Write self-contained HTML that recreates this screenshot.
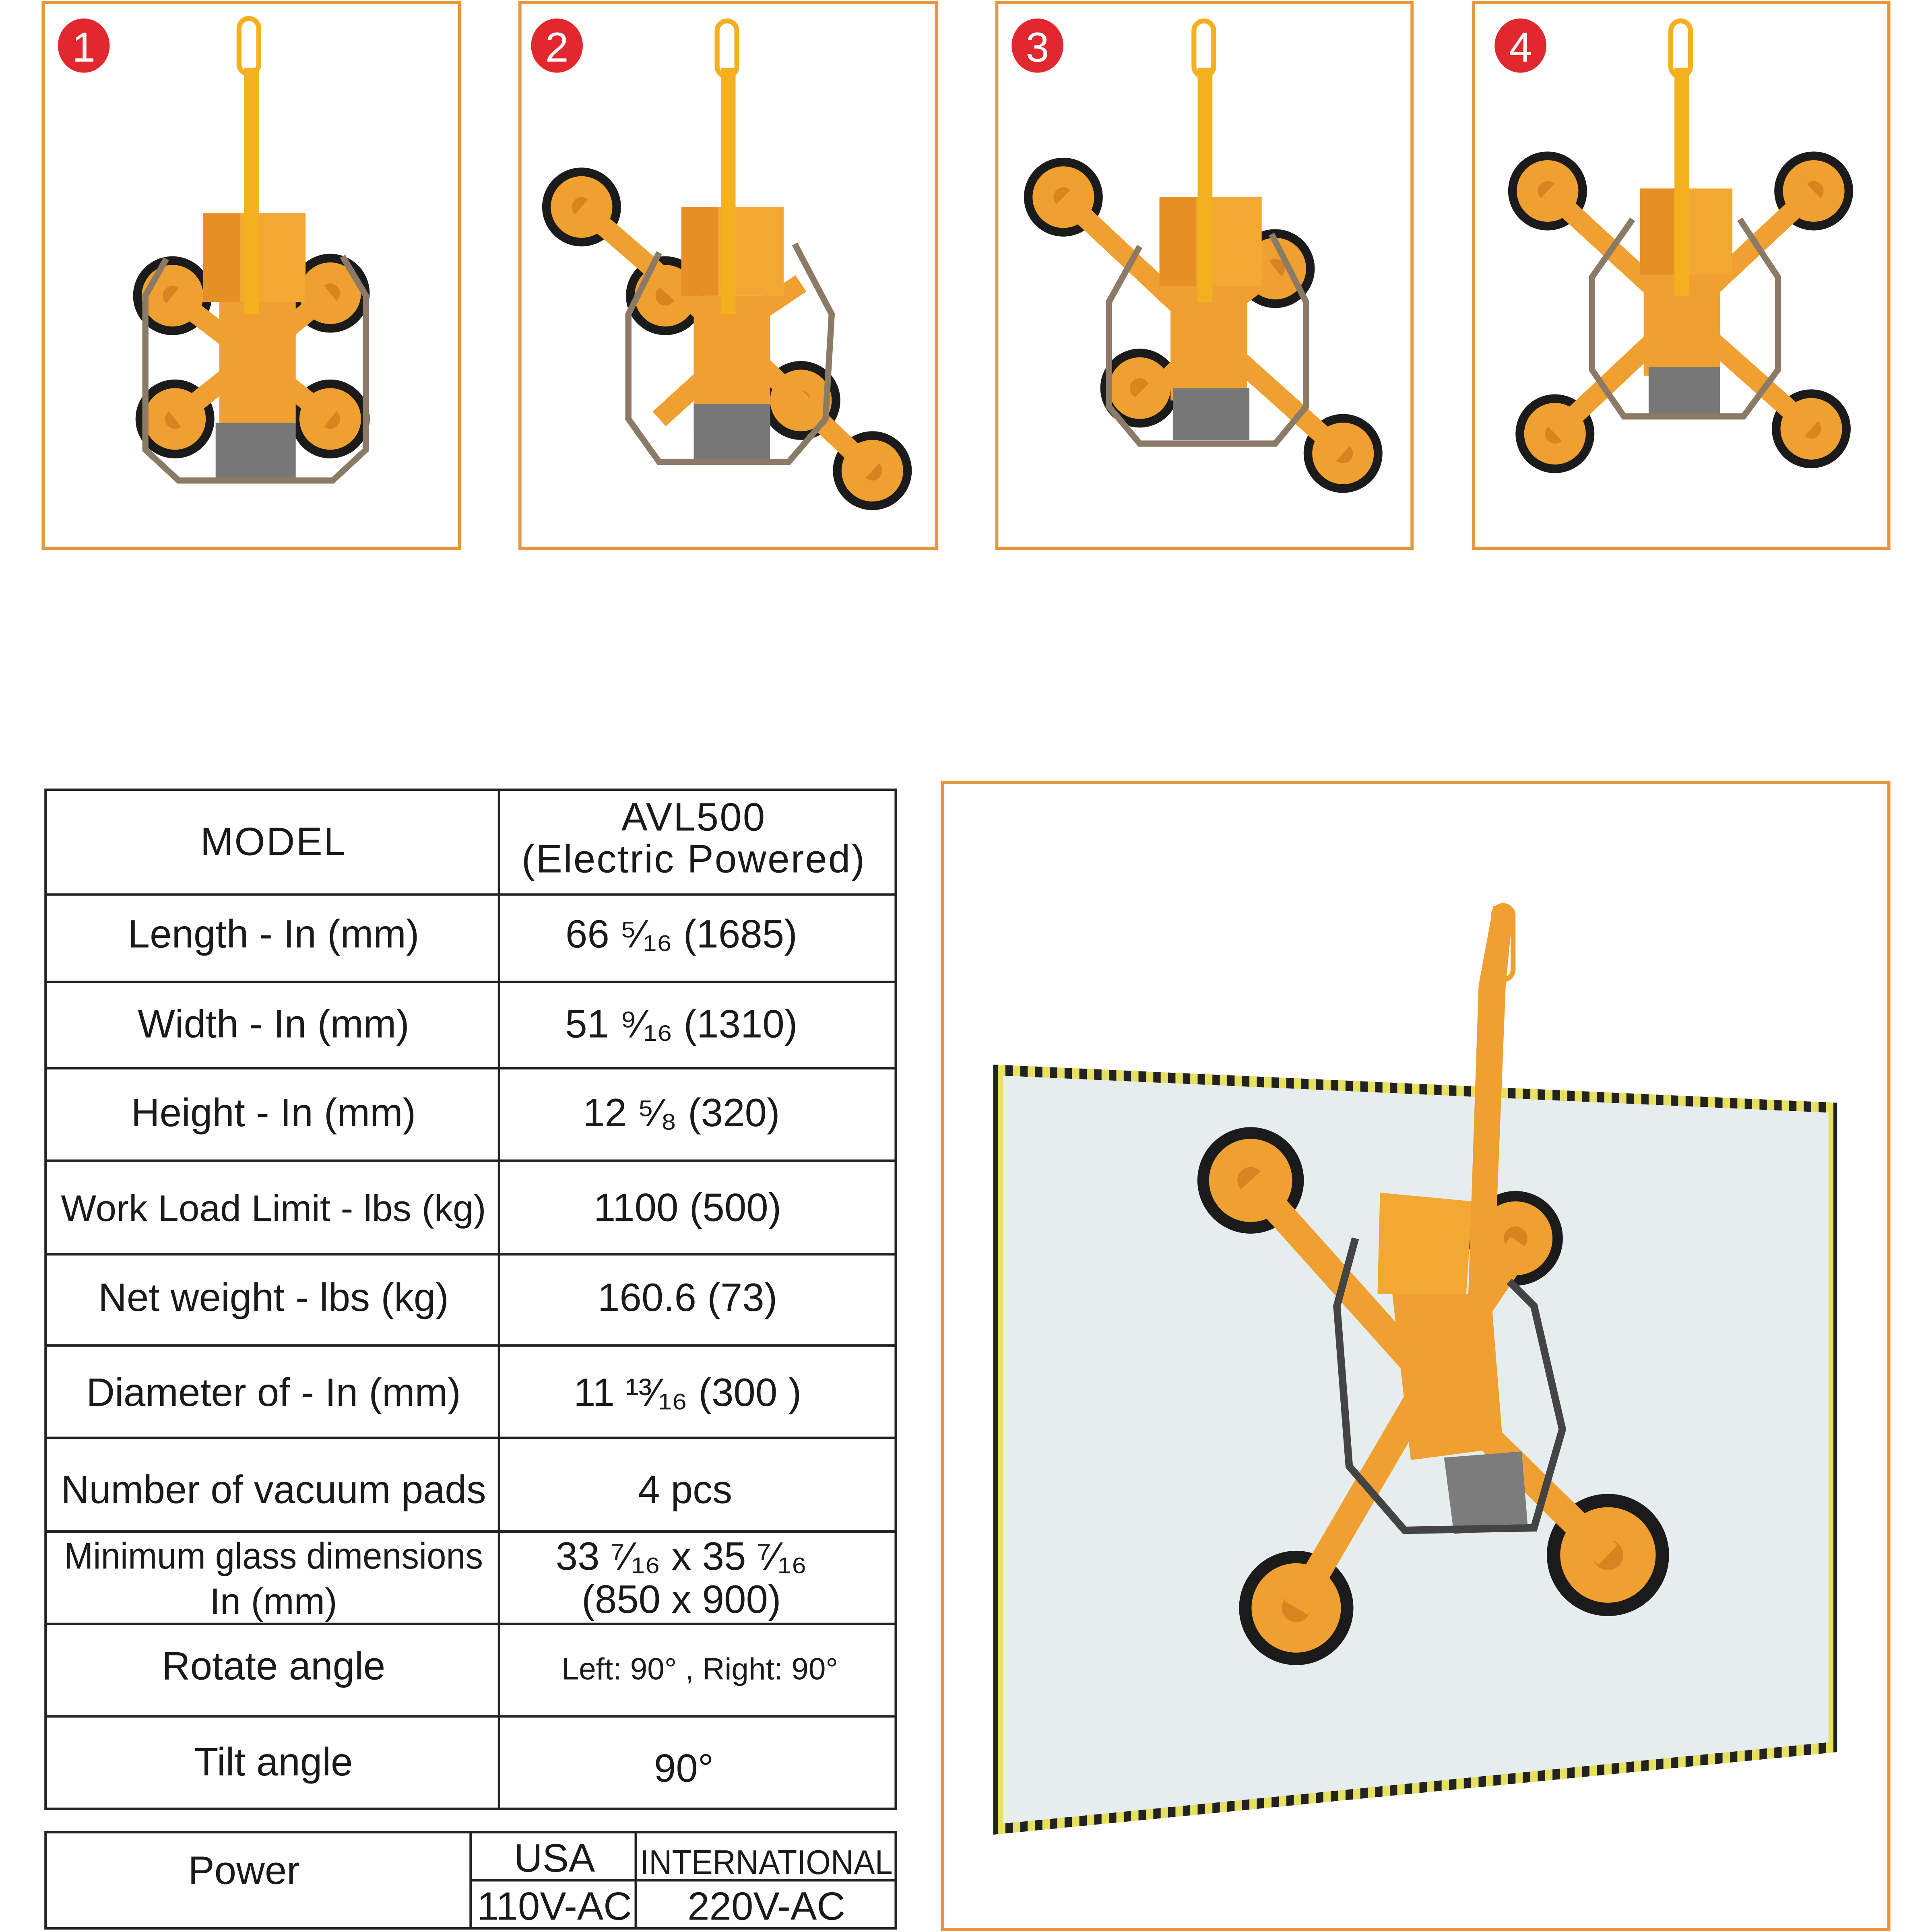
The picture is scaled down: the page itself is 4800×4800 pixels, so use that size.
<!DOCTYPE html>
<html><head><meta charset="utf-8"><style>
html,body{margin:0;padding:0;background:#fff;}
svg{display:block;}
text{font-family:"Liberation Sans","DejaVu Sans",sans-serif;fill:#1a1a1a;}
</style></head><body>
<svg width="4800" height="4800" viewBox="0 0 1568 1568" xmlns="http://www.w3.org/2000/svg">
<defs>
<g id="pad"><circle r="32" fill="#1b1b1b"/><circle r="25" fill="#f0a030"/><circle r="8" fill="#d88420"/></g>
<pattern id="hz" width="12" height="12" patternUnits="userSpaceOnUse"><rect width="6" height="12" fill="#222"/><rect x="6" width="6" height="12" fill="#e8e060"/></pattern>
</defs>
<rect width="1568" height="1568" fill="#fff"/>
<g fill="none" stroke="#e8963c" stroke-width="2.5">
<rect x="35" y="2" width="338" height="443"/>
<rect x="422" y="2" width="338" height="443"/>
<rect x="809" y="2" width="337" height="443"/>
<rect x="1196" y="2" width="337" height="443"/>
<rect x="765" y="635" width="768" height="931"/>
</g>
<g>
<ellipse cx="68" cy="37" rx="21" ry="22" fill="#e0282e"/><text x="68" y="50" font-size="34" text-anchor="middle" style="fill:#fff">1</text>
<ellipse cx="452" cy="37" rx="21" ry="22" fill="#e0282e"/><text x="452" y="50" font-size="34" text-anchor="middle" style="fill:#fff">2</text>
<ellipse cx="842" cy="37" rx="21" ry="22" fill="#e0282e"/><text x="842" y="50" font-size="34" text-anchor="middle" style="fill:#fff">3</text>
<ellipse cx="1234" cy="37" rx="21" ry="22" fill="#e0282e"/><text x="1234" y="50" font-size="34" text-anchor="middle" style="fill:#fff">4</text>
</g>
<g>
<use href="#pad" x="140" y="240"/><use href="#pad" x="268" y="238"/><use href="#pad" x="142" y="340"/><use href="#pad" x="268" y="340"/>
<g stroke="#f0a030" stroke-width="16"><line x1="205" y1="290" x2="140" y2="240"/><line x1="205" y1="290" x2="268" y2="238"/><line x1="205" y1="290" x2="142" y2="340"/><line x1="205" y1="290" x2="268" y2="340"/></g>
<rect x="178" y="240" width="62" height="105" fill="#f0a030"/>
<rect x="165" y="173" width="83" height="72" fill="#f2a832"/>
<rect x="165" y="173" width="30" height="72" fill="#e58f25"/>
<rect x="175" y="343" width="65" height="45" fill="#777"/>
<rect x="198" y="55" width="12" height="200" fill="#f5b020"/>
<rect x="194" y="15" width="16" height="45" rx="8" fill="none" stroke="#f5b020" stroke-width="4"/>
<path d="M135 210 L118 240 L118 365 L145 390 L270 390 L297 365 L297 240 L278 208" fill="none" stroke="#8a7a66" stroke-width="5"/>
</g>
<g>
<use href="#pad" x="540" y="240"/><use href="#pad" x="650" y="325"/><use href="#pad" x="472" y="168"/><use href="#pad" x="708" y="382"/>
<g stroke="#f0a030" stroke-width="16"><line x1="590" y1="270" x2="472" y2="168"/><line x1="590" y1="270" x2="708" y2="382"/><line x1="590" y1="270" x2="650" y2="230"/><line x1="590" y1="290" x2="535" y2="340"/></g>
<rect x="563" y="240" width="62" height="105" fill="#f0a030"/>
<rect x="553" y="168" width="83" height="72" fill="#f2a832"/>
<rect x="553" y="168" width="30" height="72" fill="#e58f25"/>
<rect x="563" y="328" width="62" height="45" fill="#777"/>
<rect x="585" y="55" width="12" height="200" fill="#f5b020"/>
<rect x="582" y="17" width="16" height="45" rx="8" fill="none" stroke="#f5b020" stroke-width="4"/>
<path d="M535 205 L510 255 L510 340 L535 375 L640 375 L670 340 L675 255 L645 198" fill="none" stroke="#8a7a66" stroke-width="5"/>
</g>
<g>
<use href="#pad" x="1035" y="218"/><use href="#pad" x="925" y="315"/><use href="#pad" x="863" y="160"/><use href="#pad" x="1090" y="368"/>
<g stroke="#f0a030" stroke-width="16"><line x1="975" y1="265" x2="863" y2="160"/><line x1="975" y1="265" x2="1090" y2="368"/><line x1="975" y1="265" x2="1035" y2="218"/><line x1="975" y1="280" x2="925" y2="330"/></g>
<rect x="950" y="230" width="62" height="95" fill="#f0a030"/>
<rect x="941" y="160" width="83" height="72" fill="#f2a832"/>
<rect x="941" y="160" width="30" height="72" fill="#e58f25"/>
<rect x="952" y="315" width="62" height="42" fill="#777"/>
<rect x="972" y="55" width="12" height="190" fill="#f5b020"/>
<rect x="969" y="17" width="16" height="45" rx="8" fill="none" stroke="#f5b020" stroke-width="4"/>
<path d="M925 200 L900 245 L900 330 L925 360 L1035 360 L1060 330 L1060 245 L1032 190" fill="none" stroke="#8a7a66" stroke-width="5"/>
</g>
<g>
<use href="#pad" x="1256" y="155"/><use href="#pad" x="1472" y="155"/><use href="#pad" x="1262" y="352"/><use href="#pad" x="1470" y="348"/>
<g stroke="#f0a030" stroke-width="16"><line x1="1365" y1="255" x2="1256" y2="155"/><line x1="1365" y1="255" x2="1472" y2="155"/><line x1="1365" y1="255" x2="1262" y2="352"/><line x1="1365" y1="255" x2="1470" y2="348"/></g>
<rect x="1334" y="220" width="62" height="85" fill="#f0a030"/>
<rect x="1331" y="153" width="75" height="70" fill="#f2a832"/>
<rect x="1331" y="153" width="28" height="70" fill="#e58f25"/>
<rect x="1338" y="298" width="58" height="40" fill="#777"/>
<rect x="1359" y="55" width="12" height="185" fill="#f5b020"/>
<rect x="1356" y="17" width="16" height="45" rx="8" fill="none" stroke="#f5b020" stroke-width="4"/>
<path d="M1325 178 L1292 225 L1292 300 L1318 338 L1415 338 L1443 300 L1443 225 L1412 178" fill="none" stroke="#8a7a66" stroke-width="5"/>
</g>
<polygon points="806,864 1491,895 1491,1422 806,1489" fill="url(#hz)"/>
<polygon points="814,873 1484,903 1484,1414 814,1480" fill="#e6edef"/>
<g>
<use href="#pad" x="1015" y="958" transform="translate(1015 958) scale(1.35) translate(-1015 -958)"/>
<use href="#pad" x="1230" y="1005" transform="translate(1230 1005) scale(1.2) translate(-1230 -1005)"/>
<use href="#pad" x="1052" y="1305" transform="translate(1052 1305) scale(1.45) translate(-1052 -1305)"/>
<use href="#pad" x="1305" y="1262" transform="translate(1305 1262) scale(1.55) translate(-1305 -1262)"/>
<g stroke="#f0a030" stroke-width="22"><line x1="1160" y1="1120" x2="1015" y2="958"/><line x1="1160" y1="1120" x2="1052" y2="1305"/><line x1="1160" y1="1120" x2="1305" y2="1262"/><line x1="1160" y1="1120" x2="1235" y2="1010"/></g>
<polygon points="1130,1050 1210,1050 1220,1175 1145,1185" fill="#f0a030"/>
<polygon points="1120,968 1195,975 1190,1050 1118,1050" fill="#f2a832"/>
<polygon points="1172,1183 1235,1178 1240,1240 1180,1245" fill="#7c7c7c"/>
<polygon points="1212,735 1228,738 1222,800 1210,1100 1190,1100 1200,800" fill="#f0a030"/>
<rect x="1212" y="735" width="16" height="60" rx="8" fill="none" stroke="#f0a030" stroke-width="4"/>
<path d="M1100 1005 L1085 1060 L1095 1190 L1140 1242 L1245 1240 L1268 1160 L1245 1060 L1225 1040" fill="none" stroke="#444" stroke-width="6"/>
</g>
<g fill="none" stroke="#222" stroke-width="2">
<rect x="37" y="641" width="690" height="827"/>
<line x1="405" y1="641" x2="405" y2="1468"/>
<line x1="37" y1="726" x2="727" y2="726"/>
<line x1="37" y1="797" x2="727" y2="797"/>
<line x1="37" y1="867" x2="727" y2="867"/>
<line x1="37" y1="942" x2="727" y2="942"/>
<line x1="37" y1="1018" x2="727" y2="1018"/>
<line x1="37" y1="1092" x2="727" y2="1092"/>
<line x1="37" y1="1167" x2="727" y2="1167"/>
<line x1="37" y1="1243" x2="727" y2="1243"/>
<line x1="37" y1="1318" x2="727" y2="1318"/>
<line x1="37" y1="1393" x2="727" y2="1393"/>
<rect x="37" y="1487" width="690" height="78"/>
<line x1="382" y1="1487" x2="382" y2="1565"/>
<line x1="516" y1="1487" x2="516" y2="1565"/>
<line x1="382" y1="1526" x2="727" y2="1526"/>
</g>
<g font-size="32" text-anchor="middle">
<text x="222" y="694" letter-spacing="1">MODEL</text>
<text x="563" y="674" letter-spacing="1">AVL500</text>
<text x="563" y="708" letter-spacing="1">(Electric Powered)</text>
<text x="222" y="769">Length - In (mm)</text>
<text x="553" y="769">66 ⁵⁄₁₆  (1685)</text>
<text x="222" y="842">Width - In (mm)</text>
<text x="553" y="842">51 ⁹⁄₁₆  (1310)</text>
<text x="222" y="914">Height - In (mm)</text>
<text x="553" y="914">12 ⁵⁄₈  (320)</text>
<text x="222" y="991" font-size="30" textLength="345" lengthAdjust="spacingAndGlyphs">Work Load Limit - lbs (kg)</text>
<text x="558" y="991">1100 (500)</text>
<text x="222" y="1064">Net weight - lbs (kg)</text>
<text x="558" y="1064">160.6 (73)</text>
<text x="222" y="1141">Diameter of - In (mm)</text>
<text x="558" y="1141">11 ¹³⁄₁₆ (300 )</text>
<text x="222" y="1220" textLength="345" lengthAdjust="spacingAndGlyphs">Number of  vacuum pads</text>
<text x="556" y="1220">4 pcs</text>
<text x="222" y="1273" font-size="30" textLength="340" lengthAdjust="spacingAndGlyphs">Minimum glass dimensions</text>
<text x="222" y="1310" font-size="30">In (mm)</text>
<text x="553" y="1274">33 ⁷⁄₁₆  x 35 ⁷⁄₁₆</text>
<text x="553" y="1309">(850 x 900)</text>
<text x="222" y="1363">Rotate angle</text>
<text x="568" y="1363" font-size="25">Left: 90° , Right: 90°</text>
<text x="222" y="1441">Tilt angle</text>
<text x="555" y="1446">90°</text>
<text x="198" y="1529">Power</text>
<text x="450" y="1519">USA</text>
<text x="622" y="1521" font-size="28" textLength="205" lengthAdjust="spacingAndGlyphs">INTERNATIONAL</text>
<text x="450" y="1558">110V-AC</text>
<text x="622" y="1558">220V-AC</text>
</g>
</svg>
</body></html>
